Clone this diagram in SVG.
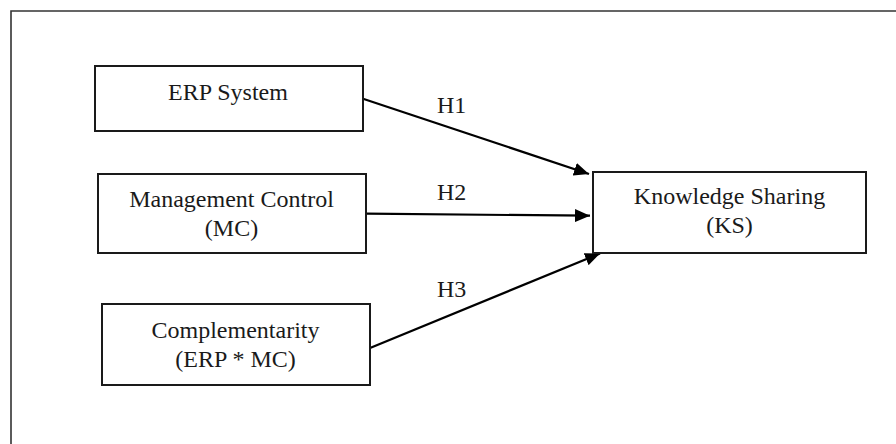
<svg xmlns="http://www.w3.org/2000/svg" width="896" height="444" viewBox="0 0 896 444">
<defs>
<marker id="ah" viewBox="0 0 15 13" refX="15" refY="6.5" markerWidth="15" markerHeight="13" markerUnits="userSpaceOnUse" orient="auto">
<path d="M0,0 L15,6.5 L0,13 Z" fill="#000"/>
</marker>
<style>
.box{fill:#fff;stroke:#1a1a1a;stroke-width:2}
.t{font-family:"Liberation Serif","Times New Roman",serif;font-size:24px;fill:#1a1a1a;text-anchor:middle}
.lbl{font-family:"Liberation Serif","Times New Roman",serif;font-size:24px;fill:#1a1a1a}
.c{stroke:#000;stroke-width:2.2;fill:none;marker-end:url(#ah)}
</style>
</defs>
<rect width="896" height="444" fill="#fff"/>
<path d="M11,450 L11,11 L900,11" fill="none" stroke="#333" stroke-width="1.6"/>
<g id="connectors">
<line class="c" x1="363" y1="98.7" x2="589" y2="174"/>
<line class="c" x1="366" y1="213.7" x2="590" y2="215.7"/>
<line class="c" x1="370" y1="348" x2="600" y2="253.5"/>
<text class="lbl" x="437" y="113">H1</text>
<text class="lbl" x="437" y="200">H2</text>
<text class="lbl" x="437" y="297">H3</text>
</g>
<g id="erp">
<rect class="box" x="95" y="66" width="268" height="65"/>
<text class="t" x="228" y="100">ERP System</text>
</g>
<g id="mc">
<rect class="box" x="98" y="174" width="268" height="79"/>
<text class="t" x="231.5" y="207">Management Control</text>
<text class="t" x="231.5" y="236">(MC)</text>
</g>
<g id="comp">
<rect class="box" x="102" y="304" width="268" height="81"/>
<text class="t" x="235.5" y="338">Complementarity</text>
<text class="t" x="235.5" y="367">(ERP * MC)</text>
</g>
<g id="ks">
<rect class="box" x="593" y="172" width="273" height="81"/>
<text class="t" x="729.5" y="204">Knowledge Sharing</text>
<text class="t" x="729.5" y="233">(KS)</text>
</g>
</svg>
